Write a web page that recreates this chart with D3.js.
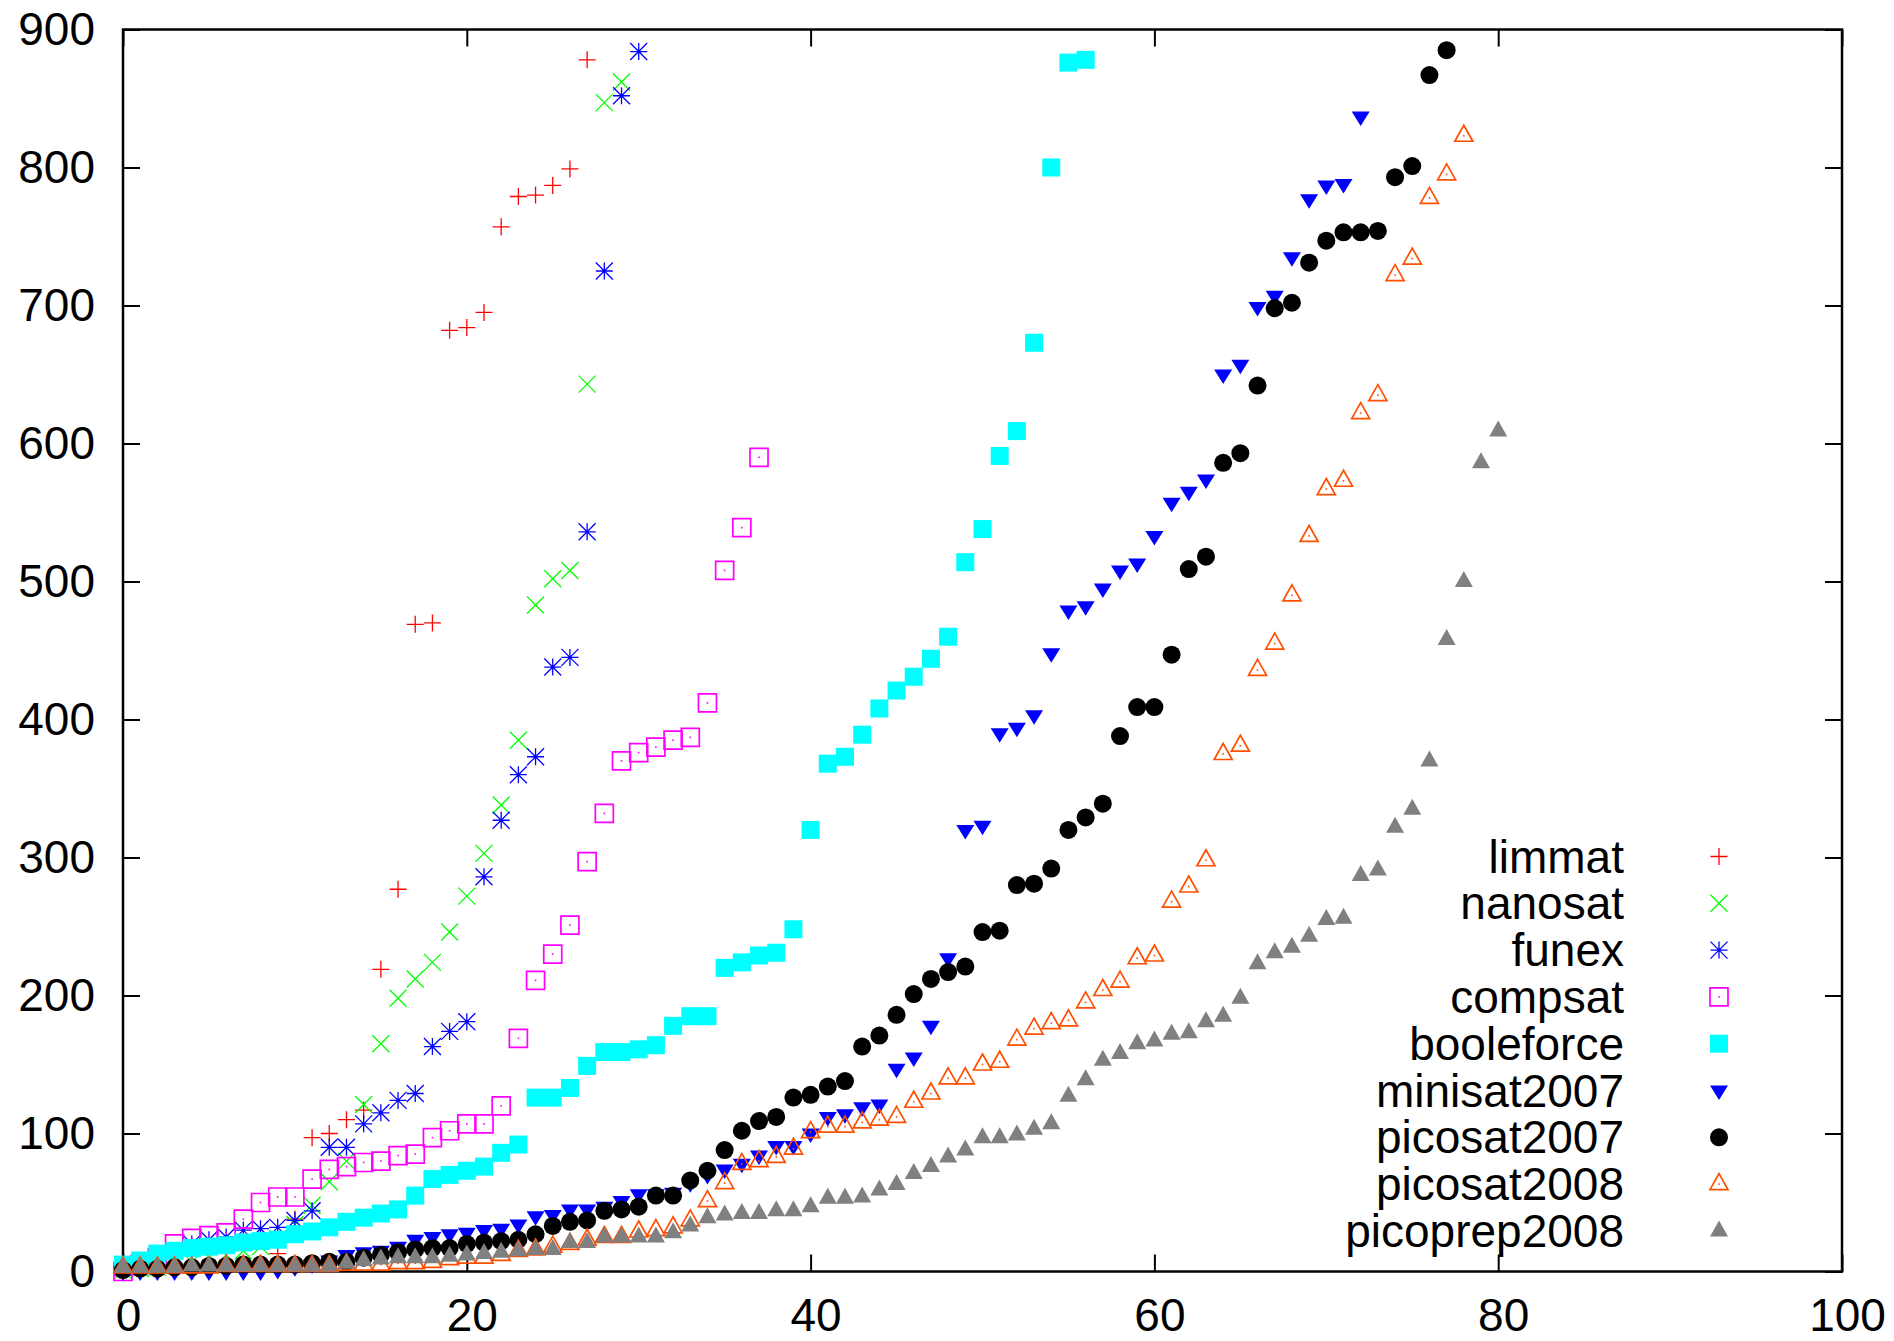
<!DOCTYPE html>
<html>
<head>
<meta charset="utf-8">
<script src="https://cdn.jsdelivr.net/npm/d3@7"></script>
<style>
  body { margin: 0; background: #fff; }
  text { font-family: "Liberation Sans", Arial, sans-serif; }
</style>
</head>
<body>
<svg id="chart" width="1894" height="1341"></svg>
<script>
// tick labels
const xTicks = [0, 20, 40, 60, 80, 100];
const yTicks = [0, 100, 200, 300, 400, 500, 600, 700, 800, 900];

// one value per solved instance, x is the index
const limmat = [1, 1, 2, 2, 3, 3, 4, 5, 6, 13, 38, 97, 100, 110, 117, 219, 277, 469, 470, 682, 684, 695, 757, 779, 780, 787, 799, 878];
const nanosat = [1, 2, 3, 5, 7, 10, 12, 15, 18, 24, 34, 48, 65, 80, 121, 165, 198, 212, 224, 246, 272, 303, 338, 385, 483, 502, 508, 643, 847, 862];
const funex = [3, 6, 10, 15, 20, 23, 25, 30, 31, 32, 37, 44, 90, 90, 107, 115, 124, 129, 163, 174, 181, 286, 327, 360, 373, 438, 445, 536, 725, 852, 884];
const compsat = [0, 5, 10, 20, 24, 26, 28, 38, 50, 54, 54, 67, 74, 76, 79, 80, 84, 85, 97, 102, 107, 107, 120, 169, 211, 230, 251, 297, 332, 370, 376, 380, 385, 387, 412, 508, 539, 590];
const booleforce = [5, 8, 13, 15, 17, 18, 19, 21, 22, 23, 27, 29, 32, 36, 39, 42, 45, 55, 67, 70, 73, 76, 86, 92, 126, 126, 133, 149, 159, 159, 161, 164, 178, 185, 185, 220, 224, 229, 231, 248, 320, 368, 373, 389, 408, 421, 431, 444, 460, 514, 538, 591, 609, 673, 800, 876, 878];
const minisat2007 = [0, 0, 0, 0, 0, 0, 0, 0, 0, 1, 3, 5, 8, 12, 14, 15, 18, 23, 25, 27, 28, 30, 31, 34, 40, 41, 45, 45, 47, 51, 56, 56, 57, 64, 70, 74, 78, 84, 91, 91, 100, 112, 114, 119, 121, 147, 155, 178, 227, 320, 323, 390, 394, 403, 448, 479, 482, 495, 508, 513, 533, 557, 565, 574, 650, 657, 699, 707, 735, 777, 787, 788, 837];
const picosat2007 = [1, 2, 2, 3, 3, 4, 4, 5, 5, 5, 5, 6, 7, 7, 10, 12, 14, 16, 17, 17, 20, 21, 22, 23, 27, 33, 36, 37, 44, 45, 47, 55, 55, 66, 73, 88, 102, 109, 112, 126, 128, 134, 138, 163, 171, 186, 201, 212, 217, 221, 246, 247, 280, 281, 292, 320, 329, 339, 388, 409, 409, 447, 509, 518, 586, 593, 642, 698, 702, 731, 747, 753, 753, 754, 793, 801, 867, 885];
const picosat2008 = [3, 3, 3, 3, 3, 3, 4, 4, 4, 4, 4, 4, 4, 5, 5, 5, 6, 6, 7, 9, 10, 10, 12, 15, 16, 18, 20, 23, 25, 25, 29, 30, 32, 37, 51, 64, 78, 80, 83, 89, 101, 105, 105, 108, 110, 112, 123, 129, 140, 140, 150, 152, 168, 176, 180, 182, 195, 204, 210, 227, 229, 268, 279, 298, 375, 381, 436, 455, 490, 533, 567, 573, 622, 635, 722, 734, 778, 795, 823];
const picoprep2008 = [3, 3, 3, 3, 4, 4, 4, 4, 4, 4, 4, 4, 4, 6, 8, 9, 10, 10, 10, 11, 12, 13, 14, 15, 16, 16, 21, 21, 25, 25, 25, 25, 28, 33, 39, 41, 42, 42, 44, 44, 47, 53, 53, 54, 59, 63, 71, 76, 83, 88, 97, 97, 99, 103, 107, 127, 139, 153, 158, 165, 167, 172, 173, 181, 185, 198, 223, 231, 235, 243, 255, 256, 287, 291, 322, 335, 370, 458, 500, 586, 609];

const names = ["limmat", "nanosat", "funex", "compsat", "booleforce", "minisat2007", "picosat2007", "picosat2008", "picoprep2008"];
const seriesValues = [limmat, nanosat, funex, compsat, booleforce, minisat2007, picosat2007, picosat2008, picoprep2008];
const colors = ["#ff0000", "#00ff00", "#0000ff", "#ff00ff", "#00ffff", "#0000ff", "#000000", "#ff4f00", "#808080"];
const shapes = ["plus", "times", "star", "box", "fbox", "ftridown", "fcircle", "tri", "ftri"];

const width = 1894, height = 1341;
const margin = { top: 29.5, right: 52, bottom: 69.5, left: 123 };
const tick = 17;
const fontSize = 46;

const svg = d3.select("#chart");

const x = d3.scaleLinear().domain([0, 100]).range([margin.left, width - margin.right]);
const y = d3.scaleLinear().domain([0, 900]).range([height - margin.bottom, margin.top]);

// marker outlines, centred on 0,0
function markerPath(shape) {
  const p = d3.path();
  const r = 8.5;
  if (shape === "plus" || shape === "star") {
    p.moveTo(-r, 0); p.lineTo(r, 0);
    p.moveTo(0, -r); p.lineTo(0, r);
  }
  if (shape === "times" || shape === "star") {
    p.moveTo(-r, -r); p.lineTo(r, r);
    p.moveTo(-r, r); p.lineTo(r, -r);
  }
  if (shape === "box" || shape === "fbox") {
    p.rect(-9, -9, 18, 18);
  }
  if (shape === "fcircle") {
    p.arc(0, 0, 9, 0, 2 * Math.PI);
  }
  if (shape === "ftridown") {
    p.moveTo(-9, -5); p.lineTo(9, -5); p.lineTo(0, 9.5); p.closePath();
  }
  if (shape === "tri" || shape === "ftri") {
    p.moveTo(0, -10.5); p.lineTo(9, 5.5); p.lineTo(-9, 5.5); p.closePath();
  }
  return p.toString();
}

function drawMarker(sel, shape, color) {
  const filled = shape.charAt(0) === "f";
  sel.append("path")
    .attr("d", markerPath(shape))
    .attr("fill", filled ? color : "none")
    .attr("stroke", filled ? "none" : color)
    .attr("stroke-width", (shape === "box" || shape === "tri") ? 1.7 : 1.3);
  if (shape === "box" || shape === "tri") {
    sel.append("rect")
      .attr("x", -0.8).attr("y", -0.8)
      .attr("width", 1.6).attr("height", 1.6)
      .attr("fill", color);
  }
}

// axes: labels bottom/left, mirrored ticks top/right
const axisB = svg.append("g")
  .attr("transform", "translate(0," + y(0) + ")")
  .call(d3.axisBottom(x).tickValues(xTicks).tickSizeInner(-tick).tickSizeOuter(0).tickPadding(27));
const axisL = svg.append("g")
  .attr("transform", "translate(" + x(0) + ",0)")
  .call(d3.axisLeft(y).tickValues(yTicks).tickSizeInner(-tick).tickSizeOuter(0).tickPadding(28));
const axisT = svg.append("g")
  .attr("transform", "translate(0," + y(900) + ")")
  .call(d3.axisTop(x).tickValues(xTicks).tickSizeInner(-tick).tickSizeOuter(0).tickFormat(""));
const axisR = svg.append("g")
  .attr("transform", "translate(" + x(100) + ",0)")
  .call(d3.axisRight(y).tickValues(yTicks).tickSizeInner(-tick).tickSizeOuter(0).tickFormat(""));

[axisB, axisL, axisT, axisR].forEach(function (g) {
  g.select(".domain").remove();
  g.selectAll(".tick line").attr("stroke", "#000").attr("stroke-width", 2);
  g.selectAll(".tick text")
    .attr("fill", "#000")
    .attr("font-size", fontSize);
});
axisB.selectAll(".tick text").attr("dx", 5);

svg.append("rect")
  .attr("x", x(0))
  .attr("y", y(900))
  .attr("width", x(100) - x(0))
  .attr("height", y(0) - y(900))
  .attr("fill", "none")
  .attr("stroke", "#000")
  .attr("stroke-width", 2.5);

// points
seriesValues.forEach(function (vals, s) {
  svg.append("g")
    .attr("class", "series-" + names[s])
    .selectAll("g")
    .data(vals)
    .enter().append("g")
    .attr("transform", function (d, i) { return "translate(" + x(i) + "," + y(d) + ")"; })
    .each(function () { drawMarker(d3.select(this), shapes[s], colors[s]); });
});

// legend
const legend = svg.append("g")
  .selectAll("g")
  .data(names)
  .enter().append("g")
  .attr("transform", function (d, i) { return "translate(0," + (856.5 + i * 46.8) + ")"; });

legend.append("text")
  .attr("x", 1624)
  .attr("dy", "0.35em")
  .attr("text-anchor", "end")
  .attr("font-size", fontSize)
  .attr("fill", "#000")
  .text(function (d) { return d; });

legend.append("g")
  .attr("transform", "translate(1719,0)")
  .each(function (d, i) { drawMarker(d3.select(this), shapes[i], colors[i]); });
</script>
</body>
</html>
